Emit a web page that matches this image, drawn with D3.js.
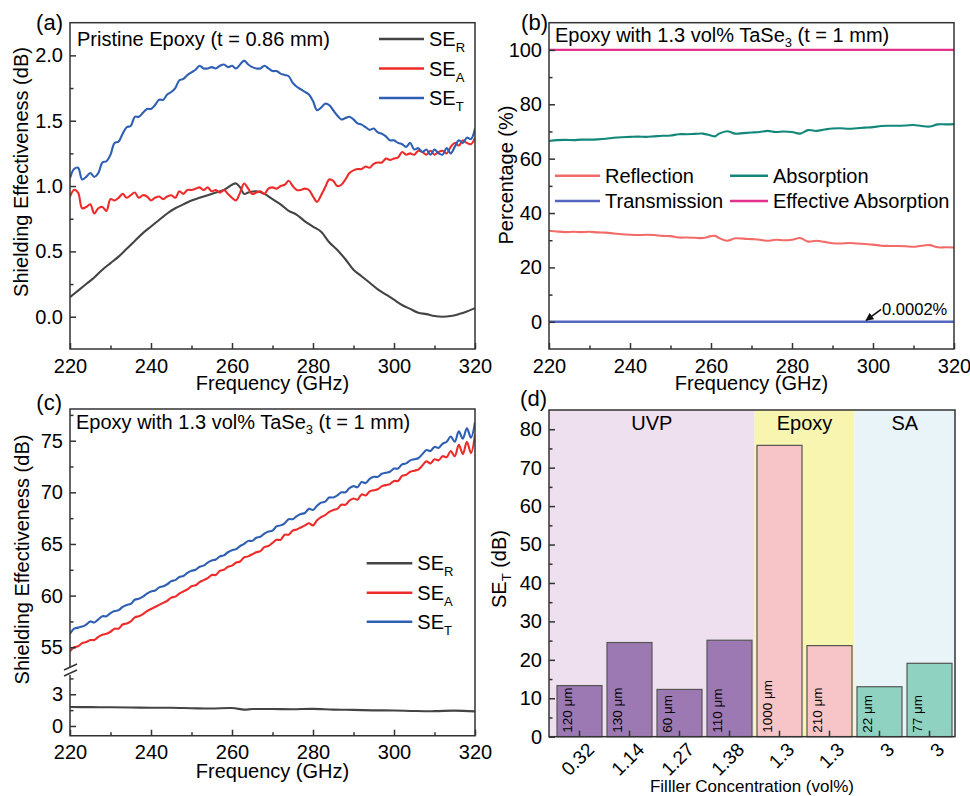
<!DOCTYPE html>
<html><head><meta charset="utf-8">
<script src="https://cdn.jsdelivr.net/npm/d3@7"></script>
<style>body{margin:0;background:#fff}</style>
</head><body>
<script>
// ---------------- DATA ----------------
const freqTicks = [220, 240, 260, 280, 300, 320];
const freqMinor = [230, 250, 270, 290, 310];
const freq1GHz = d3.range(220, 321, 1);

// Panel (a): Pristine epoxy
const aSE_R = [[220,0.15],[222,0.20],[224,0.25],[226,0.30],[228,0.36],[230,0.41],[232,0.46],[234,0.52],[236,0.58],[238,0.64],[240,0.69],[242,0.74],[244,0.79],[246,0.83],[248,0.86],[250,0.89],[252,0.91],[254,0.93],[256,0.95],[258,0.97],[260,1.01],[261,1.02],[262,0.99],[263,0.94],[264,0.95],[266,0.96],[268,0.94],[270,0.90],[272,0.86],[274,0.81],[276,0.78],[278,0.73],[280,0.69],[282,0.65],[284,0.57],[286,0.51],[288,0.44],[290,0.36],[292,0.31],[294,0.26],[296,0.21],[298,0.17],[300,0.13],[302,0.09],[304,0.06],[306,0.03],[308,0.02],[310,0.005],[312,0.0],[314,0.005],[316,0.02],[318,0.04],[320,0.065]];
const aSE_A = [0.92,0.97,0.95,0.83,0.84,0.86,0.79,0.83,0.84,0.81,
0.90,0.89,0.91,0.94,0.91,0.93,0.95,0.91,0.93,0.92,
0.89,0.91,0.92,0.90,0.92,0.93,0.91,0.96,0.94,0.97,
0.97,0.98,0.99,0.97,0.99,0.96,0.97,0.95,0.97,0.94,
0.91,0.89,0.95,1.02,0.98,0.94,0.95,0.96,0.94,0.98,
0.99,0.98,1.00,1.01,1.04,1.00,0.97,0.97,0.98,0.97,
0.92,0.88,0.93,0.99,1.05,1.04,1.00,1.01,1.05,1.10,
1.12,1.13,1.13,1.15,1.14,1.17,1.18,1.18,1.21,1.20,
1.21,1.22,1.26,1.24,1.25,1.24,1.27,1.26,1.24,1.27,
1.24,1.26,1.27,1.25,1.30,1.33,1.31,1.35,1.33,1.32,1.37];
const aSE_T = [1.06,1.13,1.14,1.05,1.07,1.10,1.07,1.10,1.18,1.19,
1.24,1.33,1.34,1.40,1.45,1.46,1.53,1.53,1.56,1.59,
1.59,1.62,1.66,1.66,1.70,1.72,1.75,1.81,1.82,1.85,
1.87,1.89,1.92,1.90,1.90,1.91,1.90,1.92,1.93,1.91,
1.92,1.90,1.93,1.96,1.93,1.91,1.90,1.90,1.92,1.90,
1.88,1.88,1.86,1.85,1.84,1.79,1.76,1.74,1.72,1.70,
1.65,1.58,1.60,1.63,1.62,1.58,1.54,1.51,1.52,1.53,
1.51,1.48,1.47,1.45,1.43,1.44,1.41,1.40,1.38,1.35,
1.35,1.33,1.32,1.30,1.33,1.28,1.29,1.26,1.28,1.24,
1.28,1.25,1.24,1.29,1.25,1.30,1.35,1.33,1.37,1.36,1.44];
const aYTicks = [0, 0.5, 1.0, 1.5, 2.0];
const aYMinor = [0.25, 0.75, 1.25, 1.75];

// Panel (b): percentages
const bReflection = [[220,33.5],[222,33.2],[224,33.0],[226,33.1],[228,33.0],[230,33.1],[232,32.9],[234,32.8],[236,32.5],[238,32.2],[240,32.0],[242,31.9],[244,32.0],[246,31.9],[248,31.6],[250,31.5],[252,31.0],[254,31.0],[256,30.9],[258,30.8],[260,31.5],[261,31.6],[262,30.8],[264,29.8],[266,30.7],[268,30.6],[270,30.4],[272,30.2],[274,29.8],[276,30.2],[278,30.0],[280,30.2],[282,30.8],[284,29.5],[286,29.8],[288,29.4],[290,28.9],[292,28.8],[294,29.0],[296,28.8],[298,28.6],[300,28.4],[302,28.0],[304,27.9],[306,27.9],[308,27.8],[310,27.6],[312,28.0],[314,28.2],[316,27.4],[318,27.4],[320,27.3]];
const bAbsorption = [[220,66.5],[222,66.8],[224,66.9],[226,66.8],[228,67.0],[230,67.0],[232,67.1],[234,67.3],[236,67.7],[238,67.9],[240,68.0],[242,68.1],[244,68.0],[246,68.2],[248,68.4],[250,68.5],[252,69.0],[254,69.0],[256,69.1],[258,69.2],[260,68.5],[261,68.2],[262,69.2],[264,70.1],[266,69.2],[268,69.4],[270,69.6],[272,69.8],[274,70.2],[276,69.8],[278,70.0],[280,69.8],[282,69.2],[284,70.5],[286,70.2],[288,70.7],[290,71.1],[292,71.2],[294,71.0],[296,71.2],[298,71.4],[300,71.6],[302,72.0],[304,72.1],[306,72.1],[308,72.2],[310,72.4],[312,72.0],[314,71.8],[316,72.6],[318,72.6],[320,72.7]];
const bTransmission = [[220,0.0002],[320,0.0002]];
const bEffAbsorption = [[220,100],[320,100]];
const bYTicks = [0, 20, 40, 60, 80, 100];
const bYMinor = [10, 30, 50, 70, 90];
const bAnnot = "0.0002%";

// Panel (c): Epoxy + 1.3 vol% TaSe3
const cSE_R = [[220,1.80],[225,1.78],[230,1.77],[235,1.75],[240,1.72],[245,1.72],[250,1.68],[255,1.65],[260,1.70],[263,1.55],[265,1.60],[270,1.60],[275,1.58],[280,1.62],[285,1.55],[290,1.52],[295,1.48],[300,1.47],[305,1.42],[310,1.40],[315,1.45],[320,1.38]];
const cSE_A = [54.6,55.0,55.1,55.4,55.5,55.7,55.7,56.0,56.2,56.3,
56.5,56.8,56.8,57.2,57.3,57.5,57.9,58.0,58.2,58.5,
58.7,58.9,59.1,59.3,59.5,59.8,59.9,60.2,60.4,60.6,
60.9,61.0,61.3,61.5,61.7,62.0,62.0,62.4,62.5,62.8,
62.9,63.2,63.3,63.7,63.8,64.0,64.2,64.3,64.7,64.8,
65.1,65.4,65.4,65.9,65.9,66.3,66.4,66.6,66.8,67.0,
66.8,67.3,67.6,67.8,68.1,68.3,68.4,68.8,68.8,69.2,
69.4,69.3,69.8,69.7,70.1,70.2,70.3,70.6,70.7,70.8,
71.1,71.1,71.6,71.7,72.0,72.1,72.2,72.6,73.0,72.8,
73.2,73.1,73.5,73.4,74.0,73.5,74.6,73.7,74.9,73.8,75.6];
const cSE_T = [56.3,56.8,56.9,57.0,57.2,57.5,57.4,57.7,58.0,58.0,
58.3,58.5,58.6,58.9,59.1,59.2,59.6,59.7,59.9,60.2,
60.4,60.5,60.8,60.9,61.1,61.4,61.5,61.8,61.9,62.2,
62.4,62.5,62.8,62.9,63.2,63.4,63.5,63.8,63.9,64.2,
64.4,64.5,64.8,65.0,65.3,65.3,65.6,65.7,66.0,66.2,
66.3,66.7,66.8,67.0,67.4,67.4,67.7,67.9,68.0,68.4,
68.3,68.7,69.0,69.1,69.5,69.5,69.7,70.0,70.0,70.4,
70.6,70.5,71.0,70.9,71.3,71.5,71.5,71.8,71.9,72.0,
72.3,72.3,72.7,72.8,73.1,73.2,73.3,73.7,74.1,74.0,
74.4,74.3,74.7,74.9,75.4,74.9,75.9,75.2,76.2,75.3,76.8];
const cUpperTicks = [55, 60, 65, 70, 75];
const cUpperMinor = [57.5, 62.5, 67.5, 72.5, 77.5];
const cLowerTicks = [0, 3];
const cLowerMinor = [1.5, 4.5];

// Panel (d): comparison bars
const dConcentration = ["0.32", "1.14", "1.27", "1.38", "1.3", "1.3", "3", "3"];
const dSET = [13.3, 24.5, 12.3, 25.1, 75.8, 23.7, 13.0, 19.1];
const dThickness = ["120 μm", "130 μm", "60 μm", "110 μm", "1000 μm", "210 μm", "22 μm", "77 μm"];
const dMatrix = ["UVP", "UVP", "UVP", "UVP", "Epoxy", "Epoxy", "SA", "SA"];
const dMatrixNames = ["UVP", "Epoxy", "SA"];
const dYTicks = [0, 10, 20, 30, 40, 50, 60, 70, 80];
const dYMinor = [5, 15, 25, 35, 45, 55, 65, 75];

// ---------------- STYLE ----------------
const FF = "'Liberation Sans', Arial, Helvetica, sans-serif";
const AX = "#333", AXW = 1.5;
const col = { R: "#444444", A: "#ee2b2b", T: "#2f5fb3" };
const bCol = { refl: "#f26b69", abs: "#12877a", trans: "#5566c0", eff: "#e4318b" };
const dBg = { UVP: "#eee0ee", Epoxy: "#f8f5b0", SA: "#e9f4f8" };
const dBar = { UVP: "#9d79b3", Epoxy: "#f7c4c7", SA: "#8fd2c1" };

const svg = d3.select("body").append("svg").attr("width", 970).attr("height", 796)
  .style("font-family", FF).style("display", "block");

const P = {
  a: { x0: 70, x1: 475, y0: 22.7, y1: 349 },
  b: { x0: 549, x1: 954, y0: 22.7, y1: 349 },
  c: { x0: 70, x1: 475, y0: 409, y1: 735.7 },
  d: { x0: 549, x1: 955, y0: 410, y1: 736.7 }
};

function styleAxis(g, fs) {
  g.select(".domain").remove();
  g.selectAll("line").attr("stroke", AX).attr("stroke-width", AXW);
  g.selectAll("text").attr("font-size", fs).attr("fill", "#000").attr("font-family", FF);
}
function bottomAxis(p, x, major, minor) {
  const g = svg.append("g").attr("transform", `translate(0,${p.y1})`)
    .call(d3.axisBottom(x).tickValues(major).tickSize(-6).tickPadding(9.5).tickFormat(d3.format("d")));
  styleAxis(g, 20);
  const m = svg.append("g").attr("transform", `translate(0,${p.y1})`)
    .call(d3.axisBottom(x).tickValues(minor).tickSize(-3.5).tickFormat(""));
  styleAxis(m, 20);
}
function leftAxis(p, y, major, minor, fmt) {
  const g = svg.append("g").attr("transform", `translate(${p.x0},0)`)
    .call(d3.axisLeft(y).tickValues(major).tickSize(-6).tickPadding(7).tickFormat(fmt));
  styleAxis(g, 20);
  const m = svg.append("g").attr("transform", `translate(${p.x0},0)`)
    .call(d3.axisLeft(y).tickValues(minor).tickSize(-3.5).tickFormat(""));
  styleAxis(m, 20);
}
function frame(p) {
  svg.append("rect").attr("x", p.x0).attr("y", p.y0).attr("width", p.x1 - p.x0).attr("height", p.y1 - p.y0)
    .attr("fill", "none").attr("stroke", AX).attr("stroke-width", AXW);
}
function panelLabel(txt, x, y) {
  svg.append("text").attr("x", x).attr("y", y).attr("text-anchor", "end").attr("font-size", 22).text(txt);
}
function xTitle(p, txt, y, fs) {
  svg.append("text").attr("x", (p.x0 + p.x1) / 2).attr("y", y).attr("text-anchor", "middle")
    .attr("font-size", fs || 20).text(txt);
}
function yTitle(x, cy, build) {
  const t = svg.append("text").attr("transform", `translate(${x},${cy}) rotate(-90)`)
    .attr("text-anchor", "middle").attr("font-size", 20);
  build(t);
}
function seLabel(t, sub) {
  t.append("tspan").text("SE");
  t.append("tspan").attr("font-size", 13).attr("dy", 6).text(sub);
}
function tase3Title(x, y) {
  const t = svg.append("text").attr("x", x).attr("y", y).attr("font-size", 20);
  t.append("tspan").text("Epoxy with 1.3 vol% TaSe");
  t.append("tspan").attr("font-size", 13).attr("dy", 5).text("3");
  t.append("tspan").attr("dy", -5).text(" (t = 1 mm)");
}
function legendRow(x0, x1, y, color, buildText) {
  svg.append("line").attr("x1", x0).attr("x2", x1).attr("y1", y).attr("y2", y)
    .attr("stroke", color).attr("stroke-width", 2.5);
  const t = svg.append("text").attr("x", x1 + 5).attr("y", y + 7).attr("font-size", 20);
  buildText(t);
}
const lw = 2.1;

// ---------------- PANEL (a) ----------------
{
  const p = P.a;
  const x = d3.scaleLinear().domain([220, 320]).range([p.x0, p.x1]);
  const y = d3.scaleLinear().domain([-0.247, 2.25]).range([p.y1, p.y0]);
  const clip = svg.append("clipPath").attr("id", "clipA").append("rect")
    .attr("x", p.x0).attr("y", p.y0).attr("width", p.x1 - p.x0).attr("height", p.y1 - p.y0);
  const g = svg.append("g").attr("clip-path", "url(#clipA)");
  const lineP = d3.line().x(d => x(d[0])).y(d => y(d[1])).curve(d3.curveCatmullRom);
  const lineI = d3.line().x((d, i) => x(freq1GHz[i])).y(d => y(d)).curve(d3.curveCatmullRom);
  g.append("path").attr("d", lineP(aSE_R)).attr("fill", "none").attr("stroke", col.R).attr("stroke-width", lw);
  g.append("path").attr("d", lineI(aSE_A)).attr("fill", "none").attr("stroke", col.A).attr("stroke-width", lw);
  g.append("path").attr("d", lineI(aSE_T)).attr("fill", "none").attr("stroke", col.T).attr("stroke-width", lw);
  frame(p);
  bottomAxis(p, x, freqTicks, freqMinor);
  leftAxis(p, y, aYTicks, aYMinor, d3.format(".1f"));
  svg.append("text").attr("x", p.x0 + 7).attr("y", 45.5).attr("font-size", 20).text("Pristine Epoxy (t = 0.86 mm)");
  legendRow(p.x1 - 96, p.x1 - 51, 39, col.R, t => seLabel(t, "R"));
  legendRow(p.x1 - 96, p.x1 - 51, 68.5, col.A, t => seLabel(t, "A"));
  legendRow(p.x1 - 96, p.x1 - 51, 98, col.T, t => seLabel(t, "T"));
  xTitle(p, "Frequency (GHz)", 390);
  yTitle(27.5, 172, t => t.text("Shielding Effectiveness (dB)"));
  panelLabel("(a)", 63, 30);
}

// ---------------- PANEL (b) ----------------
{
  const p = P.b;
  const x = d3.scaleLinear().domain([220, 320]).range([p.x0, p.x1]);
  const y = d3.scaleLinear().domain([-10, 110]).range([p.y1, p.y0]);
  const line = d3.line().x(d => x(d[0])).y(d => y(d[1])).curve(d3.curveCatmullRom);
  svg.append("path").attr("d", line(bReflection)).attr("fill", "none").attr("stroke", bCol.refl).attr("stroke-width", lw);
  svg.append("path").attr("d", line(bAbsorption)).attr("fill", "none").attr("stroke", bCol.abs).attr("stroke-width", lw);
  svg.append("path").attr("d", line(bTransmission)).attr("fill", "none").attr("stroke", bCol.trans).attr("stroke-width", 2.4);
  svg.append("path").attr("d", line(bEffAbsorption)).attr("fill", "none").attr("stroke", bCol.eff).attr("stroke-width", 2.4);
  frame(p);
  bottomAxis(p, x, freqTicks, freqMinor);
  leftAxis(p, y, bYTicks, bYMinor, d3.format("d"));
  tase3Title(p.x0 + 6, 41.7);
  legendRow(p.x0 + 6, p.x0 + 51, 175.7, bCol.refl, t => t.text("Reflection"));
  legendRow(p.x0 + 181, p.x0 + 219, 175.7, bCol.abs, t => t.text("Absorption"));
  legendRow(p.x0 + 6, p.x0 + 51, 201, bCol.trans, t => t.text("Transmission"));
  legendRow(p.x0 + 181, p.x0 + 219, 201, bCol.eff, t => t.text("Effective Absorption"));
  // annotation arrow
  const defs = svg.append("defs");
  defs.append("marker").attr("id", "arrowHead").attr("viewBox", "0 0 10 10").attr("refX", 9).attr("refY", 5)
    .attr("markerWidth", 5).attr("markerHeight", 5).attr("orient", "auto")
    .append("path").attr("d", "M0,0 L10,5 L0,10 z").attr("fill", "#111");
  const hx = x(298.3), hy = y(bTransmission[0][1]) - 1.5;
  svg.append("line").attr("x1", hx + 15).attr("y1", hy - 11).attr("x2", hx).attr("y2", hy)
    .attr("stroke", "#111").attr("stroke-width", 1.6).attr("marker-end", "url(#arrowHead)");
  svg.append("text").attr("x", hx + 16).attr("y", hy - 5).attr("font-size", 16.5).text(bAnnot);
  xTitle(p, "Frequency (GHz)", 390);
  yTitle(513, 175, t => t.text("Percentage (%)"));
  panelLabel("(b)", 548, 30);
}

// ---------------- PANEL (c) ----------------
{
  const p = P.c;
  const yBreak = 671;
  const x = d3.scaleLinear().domain([220, 320]).range([p.x0, p.x1]);
  const yU = d3.scaleLinear().domain([52.7, 78.07]).range([yBreak, p.y0]);
  const yL = d3.scaleLinear().domain([-0.92, 5.2]).range([p.y1, yBreak]);
  svg.append("clipPath").attr("id", "clipC").append("rect")
    .attr("x", p.x0).attr("y", p.y0).attr("width", p.x1 - p.x0).attr("height", p.y1 - p.y0);
  const g = svg.append("g").attr("clip-path", "url(#clipC)");
  const lineU = d3.line().x((d, i) => x(freq1GHz[i])).y(d => yU(d)).curve(d3.curveCatmullRom);
  const lineL = d3.line().x(d => x(d[0])).y(d => yL(d[1])).curve(d3.curveCatmullRom);
  g.append("path").attr("d", lineL(cSE_R)).attr("fill", "none").attr("stroke", col.R).attr("stroke-width", lw);
  g.append("path").attr("d", lineU(cSE_A)).attr("fill", "none").attr("stroke", col.A).attr("stroke-width", lw);
  g.append("path").attr("d", lineU(cSE_T)).attr("fill", "none").attr("stroke", col.T).attr("stroke-width", lw);
  // frame with broken left axis
  const fr = svg.append("g").attr("stroke", AX).attr("stroke-width", AXW).attr("fill", "none");
  fr.append("path").attr("d", `M${p.x0},${yBreak - 4}V${p.y0}H${p.x1}V${p.y1}H${p.x0}V${yBreak + 4}`);
  fr.append("line").attr("x1", p.x0 - 6).attr("y1", yBreak - 1).attr("x2", p.x0 + 7).attr("y2", yBreak - 7);
  fr.append("line").attr("x1", p.x0 - 6).attr("y1", yBreak + 5).attr("x2", p.x0 + 7).attr("y2", yBreak - 1);
  bottomAxis(p, x, freqTicks, freqMinor);
  leftAxis(p, yU, cUpperTicks, cUpperMinor, d3.format("d"));
  leftAxis(p, yL, cLowerTicks, cLowerMinor, d3.format("d"));
  tase3Title(p.x0 + 6, 429);
  legendRow(366.7, 412.3, 563.3, col.R, t => seLabel(t, "R"));
  legendRow(366.7, 412.3, 592.7, col.A, t => seLabel(t, "A"));
  legendRow(366.7, 412.3, 621.7, col.T, t => seLabel(t, "T"));
  xTitle(p, "Frequency (GHz)", 778);
  yTitle(29, 559.5, t => t.text("Shielding Effectiveness (dB)"));
  panelLabel("(c)", 62, 410);
}

// ---------------- PANEL (d) ----------------
{
  const p = P.d;
  const idx = d3.range(dSET.length);
  const x = d3.scaleBand().domain(idx).range([p.x0 + 5.5, p.x1 - 0.5]).paddingInner(0.1).paddingOuter(0.05);
  const y = d3.scaleLinear().domain([0, 85]).range([p.y1, p.y0]);
  const step = x.step(), bw = x.bandwidth();
  // background regions per matrix
  dMatrixNames.forEach(name => {
    const members = idx.filter(i => dMatrix[i] === name);
    const first = d3.min(members), last = d3.max(members);
    const left = first === 0 ? p.x0 : x(first) - (step - bw) / 2;
    const right = last === idx.length - 1 ? p.x1 : x(last) + bw + (step - bw) / 2;
    svg.append("rect").attr("x", left).attr("y", p.y0).attr("width", right - left).attr("height", p.y1 - p.y0)
      .attr("fill", dBg[name]);
    svg.append("text").attr("x", (left + right) / 2).attr("y", p.y0 + 20).attr("text-anchor", "middle")
      .attr("font-size", 20).text(name);
  });
  svg.selectAll("rect.bar").data(idx).enter().append("rect").attr("class", "bar")
    .attr("x", i => x(i)).attr("y", i => y(dSET[i])).attr("width", bw).attr("height", i => y(0) - y(dSET[i]))
    .attr("fill", i => dBar[dMatrix[i]]).attr("stroke", "#555").attr("stroke-width", 1.2);
  svg.selectAll("text.thk").data(idx).enter().append("text").attr("class", "thk")
    .attr("transform", i => `translate(${x(i) + 15},${y(0) - 4}) rotate(-90)`)
    .attr("font-size", 13.5).text(i => dThickness[i]);
  frame(p);
  const gx = svg.append("g").attr("transform", `translate(0,${p.y1})`)
    .call(d3.axisBottom(x).tickSize(-6).tickFormat(""));
  styleAxis(gx, 19);
  svg.selectAll("text.cat").data(idx).enter().append("text").attr("class", "cat")
    .attr("transform", i => `translate(${x(i) + bw / 2 + 16},${p.y1 + 14}) rotate(-45)`)
    .attr("text-anchor", "end").attr("font-size", 19).text(i => dConcentration[i]);
  leftAxis(p, y, dYTicks, dYMinor, d3.format("d"));
  xTitle(p, "Filller Concentration (vol%)", 792, 17);
  yTitle(506, 569, t => {
    t.append("tspan").text("SE");
    t.append("tspan").attr("font-size", 13).attr("dy", 5).text("T");
    t.append("tspan").attr("dy", -5).text(" (dB)");
  });
  panelLabel("(d)", 547, 406);
}
</script>
</body></html>
